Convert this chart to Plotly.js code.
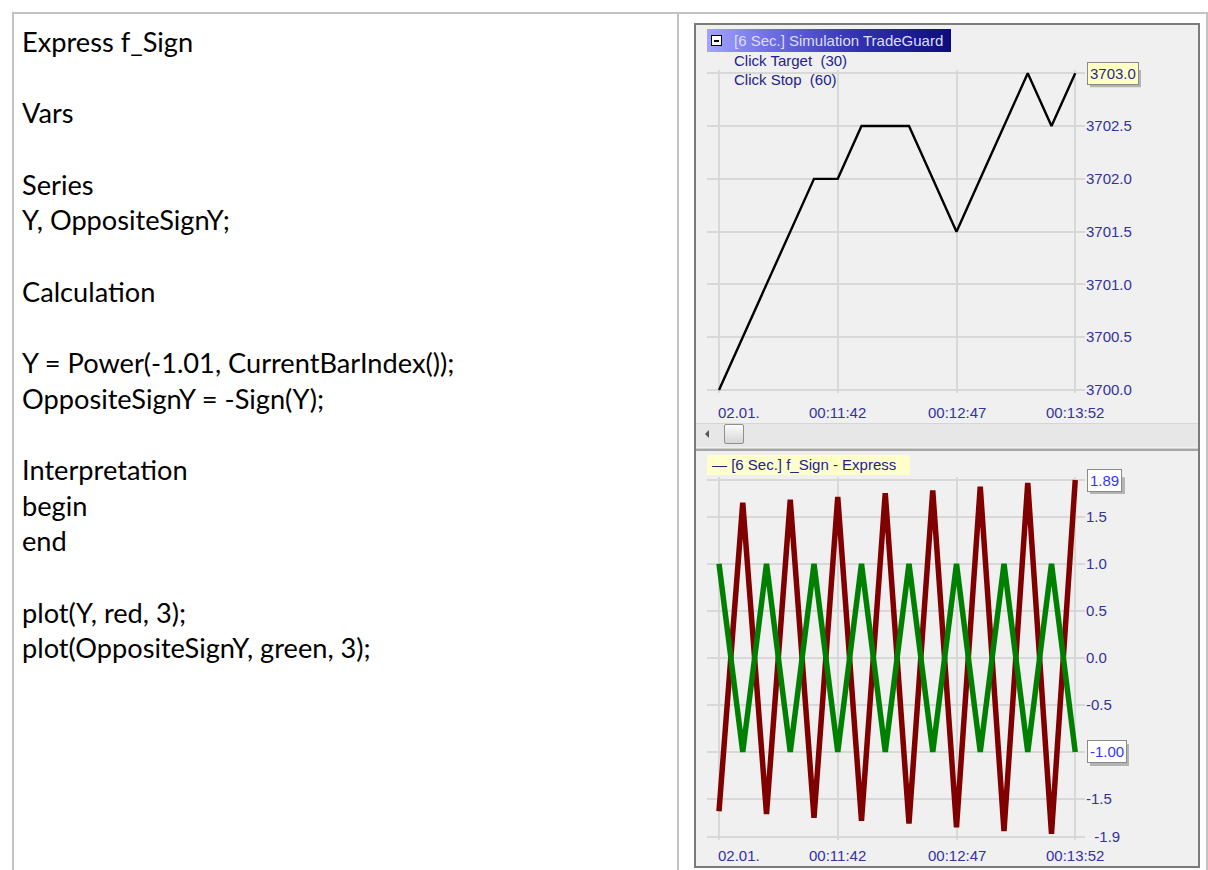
<!DOCTYPE html>
<html>
<head>
<meta charset="utf-8">
<script src="https://cdn.plot.ly/plotly-3.0.1.min.js"></script>
<style>
html,body{margin:0;padding:0;background:#fff;}
#page{position:relative;width:1208px;height:870px;overflow:hidden;background:#fff;}
.abs{position:absolute;}
.line{background:#c3c3c3;}
#code{left:22px;top:24px;font-family:Lato,'Open Sans',sans-serif;font-size:27.2px;line-height:35.65px;color:#000;white-space:pre;}
#frame{left:694px;top:23px;width:506px;height:845px;box-sizing:border-box;border:2px solid #7b7b7b;background:#f0f0f0;}
#scroll{left:696px;top:423px;width:502px;height:24px;background:#e7e7e7;border-top:1px solid #d6d6d6;box-sizing:border-box;}
#thumb{left:724px;top:424px;width:20px;height:20px;box-sizing:border-box;border:1px solid #8f8f8f;border-radius:2px;background:linear-gradient(#fbfbfb,#d6d6d6);}
#arrow{left:705px;top:430px;width:0;height:0;border-top:4px solid transparent;border-bottom:4px solid transparent;border-right:4px solid #555;}
#sep{left:696px;top:448px;width:502px;height:3px;background:#a6a6a6;border-top:1px solid #cfcfcf;box-sizing:border-box;}
#titlebar{left:707px;top:29px;width:244px;height:23px;background:linear-gradient(to right,#a4a4ff 0%,#7070e6 25%,#3434b4 60%,#0c0c7c 100%);}
#minus{left:711px;top:35px;width:11px;height:11px;box-sizing:border-box;background:#fff;border:1px solid #000;}
#minus div{position:absolute;left:2px;top:3.5px;width:5px;height:2px;background:#000;}
.ct{font-family:'Liberation Sans',Arial,sans-serif;font-size:15px;white-space:pre;}
#ttl{left:734px;top:29px;line-height:23px;color:#dedef8;}
#tgt{left:734px;top:51px;line-height:20px;color:#22228c;}
#stp{left:734px;top:70px;line-height:20px;color:#22228c;}
#leg{left:707px;top:455px;width:203px;height:20px;background:#ffffcc;}
#legt{left:712px;top:455px;line-height:20px;color:#22228c;}
#plot{left:0;top:0;width:1208px;height:870px;}
</style>
</head>
<body>
<div id="page">
  <div class="abs line" style="left:12px;top:12px;width:1196px;height:2px;"></div>
  <div class="abs line" style="left:12px;top:12px;width:2px;height:858px;"></div>
  <div class="abs line" style="left:677px;top:12px;width:2px;height:858px;"></div>
  <div class="abs line" style="left:1206px;top:12px;width:2px;height:858px;"></div>
  <div id="code" class="abs">Express f_Sign

Vars

Series
Y, OppositeSignY;

Calculation

Y = Power(-1.01, CurrentBarIndex());
OppositeSignY = -Sign(Y);

Interpretation
begin
end

plot(Y, red, 3);
plot(OppositeSignY, green, 3);</div>
  <div id="frame" class="abs"></div>
  <div id="scroll" class="abs"></div>
  <div id="arrow" class="abs"></div>
  <div id="thumb" class="abs"></div>
  <div id="sep" class="abs"></div>
  <div id="leg" class="abs"></div>
  <div id="plot" class="abs"></div>
  <div id="titlebar" class="abs"></div>
  <div id="minus" class="abs"><div></div></div>
  <div id="ttl" class="abs ct">[6 Sec.] Simulation TradeGuard</div>
  <div id="tgt" class="abs ct">Click Target  (30)</div>
  <div id="stp" class="abs ct">Click Stop  (60)</div>
  <div id="legt" class="abs ct">— [6 Sec.] f_Sign - Express</div>
</div>
<script>
// ---- data ----
const bars = [0, 1, 2, 3, 4, 5, 6, 7, 8, 9, 10, 11, 12, 13, 14, 15];
const price = [3700.0, 3700.5, 3701.0, 3701.5, 3702.0, 3702.0, 3702.5, 3702.5,
               3702.5, 3702.0, 3701.5, 3702.0, 3702.5, 3703.0, 3702.5, 3703.0];
const signY = [-1.63, 1.65, -1.66, 1.68, -1.70, 1.71, -1.73, 1.75,
               -1.76, 1.78, -1.80, 1.82, -1.84, 1.86, -1.87, 1.89];
const oppositeSignY = [1, -1, 1, -1, 1, -1, 1, -1, 1, -1, 1, -1, 1, -1, 1, -1];
const timeTickBars = [0, 5, 10, 15];
const timeTickLabels = ['02.01.', '00:11:42', '00:12:47', '00:13:52'];
const priceTicks = [3700.0, 3700.5, 3701.0, 3701.5, 3702.0, 3702.5, 3703.0];
const priceTickLabels = ['3700.0', '3700.5', '3701.0', '3701.5', '3702.0', '3702.5', ''];
const signTicks = [1.89, 1.5, 1.0, 0.5, 0.0, -0.5, -1.0, -1.5, -1.9];
const signTickLabels = ['', '1.5', '1.0', '0.5', '0.0', '-0.5', '', '-1.5', '\u00a0\u00a0-1.9'];
const lastPrice = 3703.0;
const lastY = 1.89;
const lastOpposite = -1.00;

// ---- layout helpers ----
const W = 1208, H = 870;
const px = v => v / W;
const py = v => 1 - v / H;
const tickColor = '#333399';
const gridColor = '#d8d8d8';
const fnt = {family: 'Liberation Sans, Arial, sans-serif', size: 15, color: tickColor};

const xCommon = {
  domain: [px(707), px(1085)], range: [-0.5053, 15.4105],
  tickvals: timeTickBars, showticklabels: false, ticks: '',
  showgrid: true, gridcolor: gridColor, gridwidth: 2,
  zeroline: false, showline: false, fixedrange: true
};
const yCommon = {
  side: 'right', ticks: '', showgrid: true, gridcolor: gridColor, gridwidth: 2,
  zeroline: false, showline: false, tickfont: fnt, fixedrange: true
};

const traces = [
  {x: bars, y: price, xaxis: 'x', yaxis: 'y', mode: 'lines', type: 'scatter',
   line: {color: '#000000', width: 2.4}, hoverinfo: 'skip'},
  {x: bars, y: signY, xaxis: 'x2', yaxis: 'y2', mode: 'lines', type: 'scatter',
   line: {color: '#800000', width: 5.5}, hoverinfo: 'skip'},
  {x: bars, y: oppositeSignY, xaxis: 'x2', yaxis: 'y2', mode: 'lines', type: 'scatter',
   line: {color: '#008000', width: 5.5}, hoverinfo: 'skip'}
];

const annotations = [];
timeTickBars.forEach((b, i) => {
  annotations.push({xref: 'x', yref: 'paper', x: b, y: py(412.7), text: timeTickLabels[i],
    showarrow: false, xanchor: i === 0 ? 'left' : 'center', yanchor: 'middle',
    xshift: i === 0 ? -3 : 0, font: fnt});
  annotations.push({xref: 'x2', yref: 'paper', x: b, y: py(855), text: timeTickLabels[i],
    showarrow: false, xanchor: i === 0 ? 'left' : 'center', yanchor: 'middle',
    xshift: i === 0 ? -3 : 0, font: fnt});
});
const shapes = [];
function valueBox(xref, yref, yv, text, width, bg, color) {
  shapes.push({type: 'rect', layer: 'above', xref: 'paper', yref: yref,
    x0: px(1090), x1: px(1090 + width), ysizemode: 'pixel', yanchor: yv, y0: -14, y1: 8,
    fillcolor: '#b4b4b4', line: {width: 0}});
  annotations.push({xref: 'paper', yref: yref, x: px(1087), y: yv, text: text, showarrow: false,
    xanchor: 'left', yanchor: 'middle', bgcolor: bg, bordercolor: '#8a8a8a',
    borderwidth: 1, borderpad: 2, font: {family: fnt.family, size: 15, color: color}});
}
valueBox('x', 'y', lastPrice, lastPrice.toFixed(1), 51, '#ffffc8', '#2a2a90');
valueBox('x2', 'y2', lastY, lastY.toFixed(2), 35, '#ffffff', '#3535ff');
valueBox('x2', 'y2', lastOpposite, lastOpposite.toFixed(2), 39, '#ffffff', '#3535ff');

const layout = {
  width: W, height: H, margin: {l: 0, r: 0, t: 0, b: 0},
  paper_bgcolor: 'rgba(0,0,0,0)', plot_bgcolor: 'rgba(0,0,0,0)',
  showlegend: false, font: fnt,
  xaxis: Object.assign({}, xCommon, {anchor: 'y'}),
  xaxis2: Object.assign({}, xCommon, {anchor: 'y2'}),
  yaxis: Object.assign({}, yCommon, {anchor: 'x', domain: [py(393.2), py(70.1)],
    range: [3699.97, 3703.03], tickvals: priceTicks, ticktext: priceTickLabels}),
  yaxis2: Object.assign({}, yCommon, {anchor: 'x2', domain: [py(839.5), py(477.2)],
    range: [-1.93, 1.92], tickvals: signTicks, ticktext: signTickLabels}),
  shapes: shapes,
  annotations: annotations
};

Plotly.newPlot('plot', traces, layout, {staticPlot: true, displayModeBar: false});
</script>
</body>
</html>
